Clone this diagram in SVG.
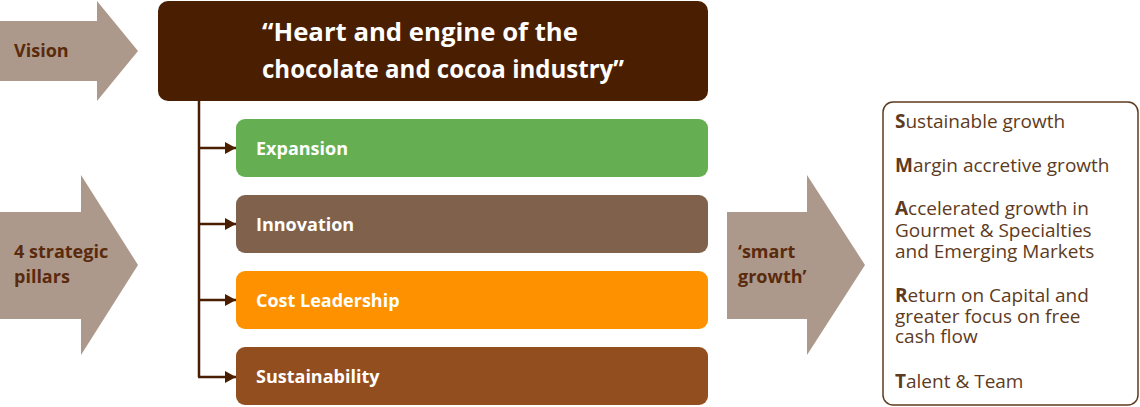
<svg xmlns="http://www.w3.org/2000/svg" width="1140" height="407" viewBox="0 0 1140 407">
<style>
.arrow{fill:#ad998c}
.atxt{font-family:"Open Sans","Liberation Sans",sans-serif;font-weight:bold;font-size:18px;fill:#5a2a0c}
.btxt{font-family:"Open Sans","Liberation Sans",sans-serif;font-weight:bold;font-size:18px;fill:#ffffff}
.title{font-family:"Open Sans","Liberation Sans",sans-serif;font-weight:bold;font-size:25px;fill:#ffffff}
.rtxt{font-family:"Open Sans","Liberation Sans",sans-serif;font-size:19px;fill:#5e3b1e}
.conn{stroke:#4a1e00;stroke-width:2.5;fill:none}
</style>
<defs>
<marker id="ah" viewBox="0 0 11 12" refX="11" refY="6" markerWidth="11" markerHeight="12" markerUnits="userSpaceOnUse" orient="auto">
<path d="M0,0 L11,6 L0,12 z" fill="#4a1e00"/>
</marker>
</defs>
<g id="vision">
<polygon class="arrow" points="0,21 97,21 97,1 138,51 97,101 97,81 0,81"/>
<text class="atxt" x="14" y="57">Vision</text>
</g>
<g id="pillars">
<polygon class="arrow" points="0,212 81,212 81,175 138,265 81,355 81,319 0,319"/>
<text class="atxt" x="14" y="258"><tspan x="14" y="258">4 strategic</tspan><tspan x="14" y="283">pillars</tspan></text>
</g>
<g id="heart">
<rect x="158" y="1" width="550" height="100" rx="10" fill="#4a1e00"/>
<text class="title"><tspan x="262" y="41" textLength="316" lengthAdjust="spacingAndGlyphs">“Heart and engine of the</tspan><tspan x="262" y="78" textLength="362" lengthAdjust="spacingAndGlyphs">chocolate and cocoa industry”</tspan></text>
</g>
<g id="connectors">
<path class="conn" d="M199,101 V377"/>
<path class="conn" d="M199,148 H236" marker-end="url(#ah)"/>
<path class="conn" d="M199,224 H236" marker-end="url(#ah)"/>
<path class="conn" d="M199,300 H236" marker-end="url(#ah)"/>
<path class="conn" d="M198,377 H236" marker-end="url(#ah)"/>
</g>
<g id="expansion">
<rect x="236" y="119" width="472" height="58" rx="9" fill="#65ae51"/>
<text class="btxt" x="256" y="155">Expansion</text>
</g>
<g id="innovation">
<rect x="236" y="195" width="472" height="58" rx="9" fill="#80624c"/>
<text class="btxt" x="256" y="231">Innovation</text>
</g>
<g id="cost">
<rect x="236" y="271" width="472" height="58" rx="9" fill="#fd9100"/>
<text class="btxt" x="256" y="307">Cost Leadership</text>
</g>
<g id="sustainability">
<rect x="236" y="347" width="472" height="58" rx="9" fill="#934e1f"/>
<text class="btxt" x="256" y="383">Sustainability</text>
</g>
<g id="smart">
<polygon class="arrow" points="727,212 807,212 807,175 865,265 807,355 807,319 727,319"/>
<text class="atxt"><tspan x="738" y="258">‘smart</tspan><tspan x="738" y="283">growth’</tspan></text>
</g>
<g id="smartbox">
<rect x="883" y="102" width="255" height="303" rx="10" fill="#ffffff" stroke="#5e3b1e" stroke-width="1.5"/>
<text class="rtxt" x="895" y="128"><tspan font-weight="bold">S</tspan>ustainable growth</text>
<text class="rtxt" x="895" y="172"><tspan font-weight="bold">M</tspan>argin accretive growth</text>
<text class="rtxt"><tspan x="895" y="215"><tspan font-weight="bold">A</tspan>ccelerated growth in</tspan><tspan x="895" y="237">Gourmet &amp; Specialties</tspan><tspan x="895" y="258">and Emerging Markets</tspan></text>
<text class="rtxt"><tspan x="895" y="302"><tspan font-weight="bold">R</tspan>eturn on Capital and</tspan><tspan x="895" y="323">greater focus on free</tspan><tspan x="895" y="343">cash flow</tspan></text>
<text class="rtxt" x="895" y="388"><tspan font-weight="bold">T</tspan>alent &amp; Team</text>
</g>
</svg>
